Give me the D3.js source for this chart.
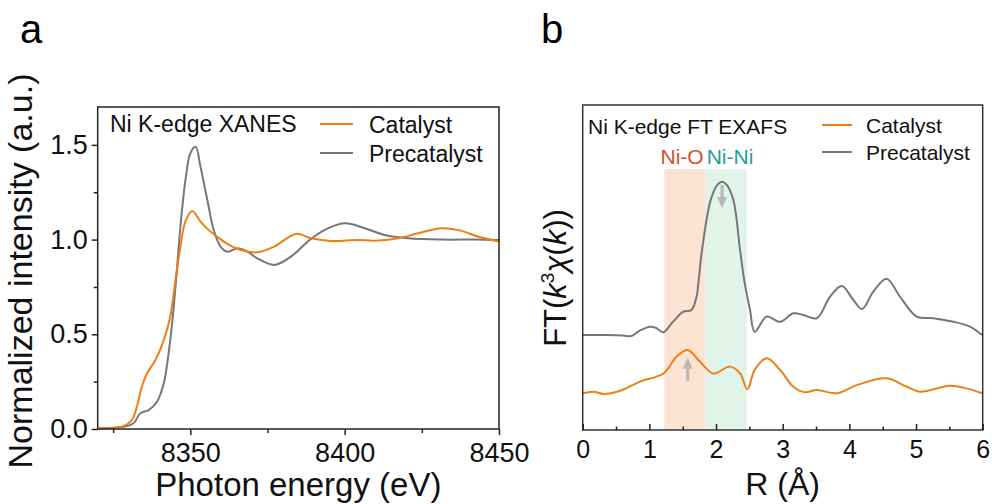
<!DOCTYPE html>
<html>
<head>
<meta charset="utf-8">
<script src="https://cdn.jsdelivr.net/npm/d3@7"></script>
<style>
  html, body { margin: 0; padding: 0; background: #fff; }
  svg { display: block; font-family: "Liberation Sans", Arial, Helvetica, sans-serif; }
</style>
</head>
<body>
<svg id="chart" width="992" height="504"></svg>
<script>
// ---- Panel a: Ni K-edge XANES ----
const xanesEnergy = [8320.5, 8328.3, 8331.1, 8332.7, 8334.3, 8336.0, 8338.7, 8341.4, 8343.5, 8345.2, 8346.8, 8348.4, 8350.6, 8353.3, 8356.0, 8358.7, 8362.0, 8366.3, 8371.8, 8377.2, 8384.2, 8389.1, 8395.6, 8404.3, 8409.7, 8417.3, 8423.8, 8431.4, 8436.9, 8443.4, 8450.0];
const xanesCatalyst = [0.004, 0.015, 0.048, 0.118, 0.223, 0.294, 0.364, 0.470, 0.593, 0.787, 0.963, 1.095, 1.151, 1.095, 1.050, 1.015, 0.977, 0.945, 0.933, 0.963, 1.030, 1.007, 0.993, 0.998, 0.994, 1.007, 1.033, 1.060, 1.050, 1.015, 0.990];

const xanesEnergyPre = [8320.5, 8328.3, 8331.6, 8333.8, 8336.5, 8339.2, 8341.4, 8343.5, 8345.2, 8346.8, 8348.4, 8350.0, 8351.7, 8353.3, 8355.5, 8357.6, 8359.8, 8362.0, 8365.2, 8368.5, 8371.8, 8377.2, 8382.6, 8388.0, 8393.4, 8400.0, 8406.5, 8413.0, 8420.6, 8431.4, 8442.3, 8450.0];
const xanesPrecatalyst = [0.004, 0.012, 0.030, 0.083, 0.100, 0.144, 0.241, 0.470, 0.750, 1.070, 1.310, 1.455, 1.490, 1.385, 1.210, 1.050, 0.963, 0.936, 0.954, 0.936, 0.900, 0.866, 0.910, 0.989, 1.050, 1.086, 1.060, 1.024, 1.007, 1.000, 1.000, 0.998];

const xanesMajorX = [8350, 8400, 8450];
const xanesMinorX = [8325, 8375, 8425];
const xanesMajorY = [0.0, 0.5, 1.0, 1.5];
const xanesMinorY = [0.25, 0.75, 1.25];

// ---- Panel b: Ni K-edge FT EXAFS ----
const exafsRCatalyst = [0.00, 0.16, 0.31, 0.56, 0.86, 1.21, 1.41, 1.575, 1.76, 1.96, 2.21, 2.36, 2.47, 2.58, 2.76, 2.96, 3.16, 3.33, 3.51, 3.81, 4.11, 4.56, 4.86, 5.06, 5.51, 5.76, 5.99];
const exafsCatalyst = [1.13, 1.18, 1.11, 1.21, 1.49, 1.74, 2.26, 2.46, 2.10, 1.74, 1.95, 1.74, 1.25, 1.85, 2.21, 1.85, 1.33, 1.16, 1.23, 1.13, 1.38, 1.59, 1.33, 1.18, 1.36, 1.28, 1.13];

const exafsRPre = [0.00, 0.30, 0.60, 0.73, 0.85, 1.01, 1.10, 1.21, 1.35, 1.51, 1.63, 1.71, 1.735, 1.79, 1.92, 2.02, 2.09, 2.16, 2.26, 2.36, 2.43, 2.51, 2.58, 2.76, 2.96, 3.16, 3.31, 3.51, 3.71, 3.885, 4.06, 4.19, 4.36, 4.56, 4.76, 5.01, 5.26, 5.56, 5.81, 5.99];
const exafsPrecatalyst = [2.92, 2.92, 2.91, 2.89, 3.05, 3.18, 3.14, 3.01, 3.32, 3.64, 3.69, 4.12, 4.52, 5.54, 7.08, 7.54, 7.64, 7.54, 7.08, 5.54, 4.52, 3.69, 3.02, 3.49, 3.33, 3.59, 3.54, 3.44, 4.10, 4.43, 4.00, 3.72, 4.26, 4.65, 4.10, 3.49, 3.44, 3.33, 3.18, 2.92];

const exafsMajorX = [0, 1, 2, 3, 4, 5, 6];
const exafsMinorX = [0.5, 1.5, 2.5, 3.5, 4.5, 5.5];

// shells: R ranges and band height (arbitrary FT units)
const shellNames = ["Ni-O", "Ni-Ni"];
const shellFrom = [1.224, 1.845];
const shellTo = [1.845, 2.46];
const shellTop = 8.03;

// change markers: R position, tail value, head value
const arrowR = [2.09, 1.575];
const arrowFrom = [7.54, 1.51];
const arrowTo = [6.83, 2.22];

const COL_CAT = "#ef7f15";
const COL_PRE = "#777777";
const COL_AXIS = "#222222";

const svg = d3.select("#chart");

// panel letters
svg.append("text").attr("x", 20).attr("y", 43).attr("font-size", 40).text("a");
svg.append("text").attr("x", 541).attr("y", 43).attr("font-size", 40).text("b");

// ================= Panel a =================
const xa = d3.scaleLinear().domain([8320, 8450]).range([97.7, 499]);
const ya = d3.scaleLinear().domain([0, 1.7]).range([429, 107]);
const ga = svg.append("g");

const lineA = d3.line().curve(d3.curveCatmullRom.alpha(0.5));

ga.append("path")
  .attr("d", lineA(xanesEnergyPre.map((e, i) => [xa(e), ya(xanesPrecatalyst[i])])))
  .attr("fill", "none").attr("stroke", COL_PRE).attr("stroke-width", 2);
ga.append("path")
  .attr("d", lineA(xanesEnergy.map((e, i) => [xa(e), ya(xanesCatalyst[i])])))
  .attr("fill", "none").attr("stroke", COL_CAT).attr("stroke-width", 2);

// frame
ga.append("rect")
  .attr("x", xa.range()[0]).attr("y", ya.range()[1])
  .attr("width", xa.range()[1] - xa.range()[0]).attr("height", ya.range()[0] - ya.range()[1])
  .attr("fill", "none").attr("stroke", COL_AXIS).attr("stroke-width", 1.5);

function styleAxis(g, fs) {
  g.select(".domain").remove();
  g.selectAll(".tick line").attr("stroke", COL_AXIS).attr("stroke-width", 1.5);
  g.selectAll(".tick text").attr("fill", "#111").attr("font-size", fs)
    .attr("font-family", "'Liberation Sans', Arial, sans-serif");
}

ga.append("g").attr("transform", `translate(0,${ya.range()[0]})`)
  .call(d3.axisBottom(xa).tickValues(xanesMajorX).tickSize(6).tickPadding(8).tickFormat(d3.format("d")))
  .call(g => styleAxis(g, 27));
ga.append("g").attr("transform", `translate(0,${ya.range()[0]})`)
  .call(d3.axisBottom(xa).tickValues(xanesMinorX).tickSize(4).tickFormat(""))
  .call(g => styleAxis(g, 27));
ga.append("g").attr("transform", `translate(${xa.range()[0]},0)`)
  .call(d3.axisLeft(ya).tickValues(xanesMajorY).tickSize(6).tickPadding(4).tickFormat(d3.format(".1f")))
  .call(g => styleAxis(g, 27));
ga.append("g").attr("transform", `translate(${xa.range()[0]},0)`)
  .call(d3.axisLeft(ya).tickValues(xanesMinorY).tickSize(4).tickFormat(""))
  .call(g => styleAxis(g, 27));

// axis titles
ga.append("text").attr("x", (xa.range()[0] + xa.range()[1]) / 2).attr("y", 496)
  .attr("text-anchor", "middle").attr("font-size", 33).attr("fill", "#111")
  .text("Photon energy (eV)");
ga.append("text").attr("transform", "translate(32,271) rotate(-90)")
  .attr("text-anchor", "middle").attr("font-size", 34).attr("fill", "#111")
  .text("Normalized intensity (a.u.)");

// legend
ga.append("text").attr("x", 110).attr("y", 132).attr("font-size", 23).attr("fill", "#111").text("Ni K-edge XANES");
const legA = [{ name: "Catalyst", col: COL_CAT, y: 124 }, { name: "Precatalyst", col: COL_PRE, y: 153 }];
legA.forEach(d => {
  ga.append("line").attr("x1", 320).attr("x2", 353).attr("y1", d.y).attr("y2", d.y)
    .attr("stroke", d.col).attr("stroke-width", 2);
  ga.append("text").attr("x", 369).attr("y", d.y + 8.5).attr("font-size", 23).attr("fill", "#111").text(d.name);
});

// ================= Panel b =================
const xb = d3.scaleLinear().domain([0, 6]).range([582.7, 982.7]);
const yb = d3.scaleLinear().domain([0, 10]).range([430, 105]);
const gb = svg.append("g");

// coordination shell bands
const shellFill = ["#fde3d2", "#e1f4ea"];
shellNames.forEach((n, i) => {
  gb.append("rect")
    .attr("x", xb(shellFrom[i])).attr("width", xb(shellTo[i]) - xb(shellFrom[i]))
    .attr("y", yb(shellTop)).attr("height", yb(0) - yb(shellTop))
    .attr("fill", shellFill[i]);
});
gb.append("text").attr("x", xb(shellTo[0]) - 2).attr("y", 163.5).attr("text-anchor", "end")
  .attr("font-size", 21).attr("fill", "#cf5330").text(shellNames[0]);
gb.append("text").attr("x", xb(shellFrom[1]) + 1).attr("y", 163.5).attr("text-anchor", "start")
  .attr("font-size", 21).attr("fill", "#22a09b").text(shellNames[1]);

// arrows
arrowR.forEach((r, i) => {
  const x = xb(r), y0 = yb(arrowFrom[i]), y1 = yb(arrowTo[i]);
  const dir = Math.sign(y1 - y0);
  const headLen = 11, headW = 5;
  gb.append("line").attr("x1", x).attr("x2", x).attr("y1", y0).attr("y2", y1 - dir * headLen * 0.8)
    .attr("stroke", "#b8b8b8").attr("stroke-width", 3);
  gb.append("path")
    .attr("d", `M${x - headW},${y1 - dir * headLen} L${x + headW},${y1 - dir * headLen} L${x},${y1} Z`)
    .attr("fill", "#b8b8b8");
});

const lineB = d3.line().curve(d3.curveCatmullRom.alpha(0.5));
gb.append("path")
  .attr("d", lineB(exafsRPre.map((r, i) => [xb(r), yb(exafsPrecatalyst[i])])))
  .attr("fill", "none").attr("stroke", COL_PRE).attr("stroke-width", 2);
gb.append("path")
  .attr("d", lineB(exafsRCatalyst.map((r, i) => [xb(r), yb(exafsCatalyst[i])])))
  .attr("fill", "none").attr("stroke", COL_CAT).attr("stroke-width", 2);

gb.append("rect")
  .attr("x", xb.range()[0]).attr("y", yb.range()[1])
  .attr("width", xb.range()[1] - xb.range()[0]).attr("height", yb.range()[0] - yb.range()[1])
  .attr("fill", "none").attr("stroke", "#333").attr("stroke-width", 1.5);

gb.append("g").attr("transform", `translate(0,${yb.range()[0]})`)
  .call(d3.axisBottom(xb).tickValues(exafsMajorX).tickSize(-6).tickPadding(10).tickFormat(d3.format("d")))
  .call(g => styleAxis(g, 25));
gb.append("g").attr("transform", `translate(0,${yb.range()[0]})`)
  .call(d3.axisBottom(xb).tickValues(exafsMinorX).tickSize(-3.5).tickFormat(""))
  .call(g => styleAxis(g, 25));

gb.append("text").attr("x", (xb.range()[0] + xb.range()[1]) / 2).attr("y", 495)
  .attr("text-anchor", "middle").attr("font-size", 32).attr("fill", "#111")
  .text("R (Å)");

const yt = gb.append("text").attr("transform", "translate(566,278) rotate(-90)")
  .attr("text-anchor", "middle").attr("font-size", 31).attr("fill", "#111");
yt.append("tspan").text("FT(");
yt.append("tspan").attr("font-style", "italic").text("k");
yt.append("tspan").attr("font-size", 19).attr("dy", -12).text("3");
yt.append("tspan").attr("font-style", "italic").attr("dy", 12).text("χ");
yt.append("tspan").text("(");
yt.append("tspan").attr("font-style", "italic").text("k");
yt.append("tspan").text("))");

gb.append("text").attr("x", 588).attr("y", 133.5).attr("font-size", 21).attr("fill", "#111").text("Ni K-edge FT EXAFS");
const legB = [{ name: "Catalyst", col: COL_CAT, y: 125 }, { name: "Precatalyst", col: COL_PRE, y: 152 }];
legB.forEach(d => {
  gb.append("line").attr("x1", 822).attr("x2", 852).attr("y1", d.y).attr("y2", d.y)
    .attr("stroke", d.col).attr("stroke-width", 2);
  gb.append("text").attr("x", 866).attr("y", d.y + 8).attr("font-size", 21).attr("fill", "#111").text(d.name);
});
</script>
</body>
</html>
